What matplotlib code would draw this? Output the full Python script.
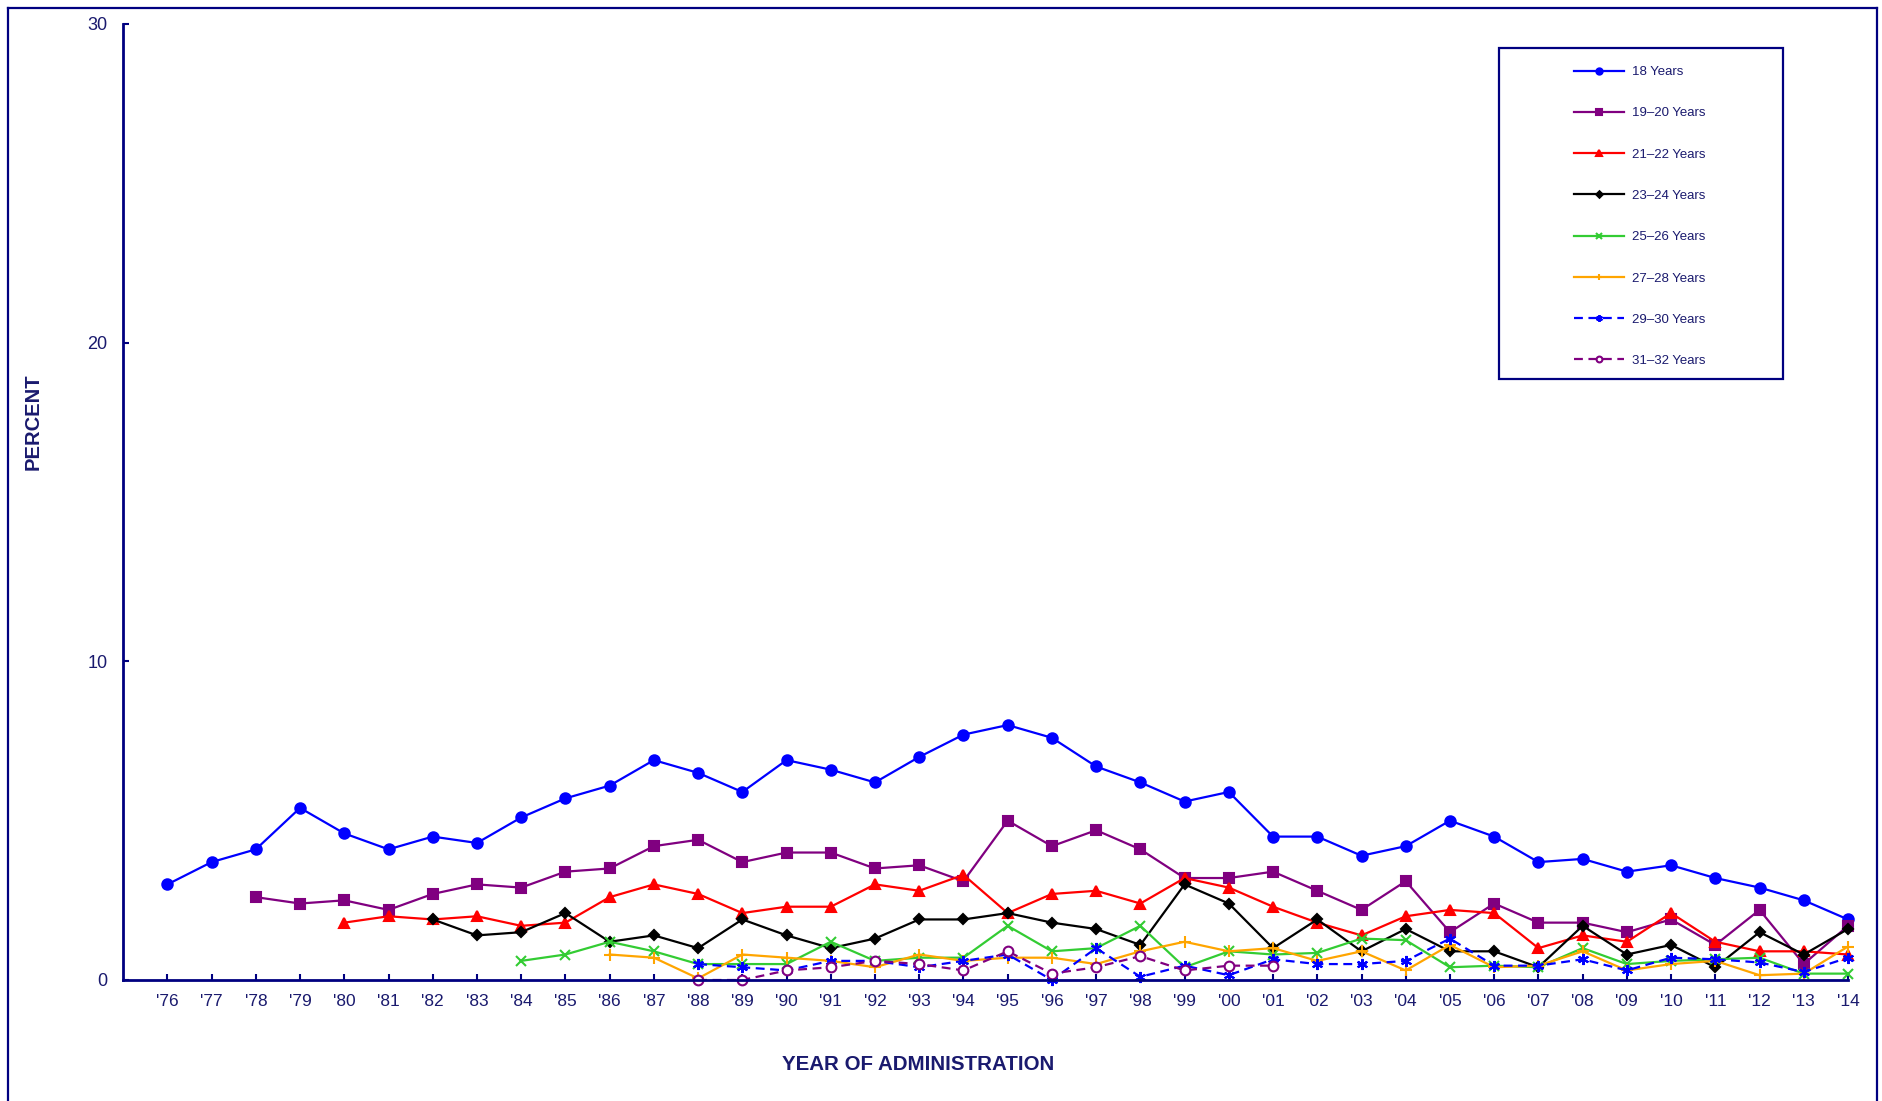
import matplotlib
matplotlib.use("Agg")
import matplotlib.pyplot as plt
from matplotlib.lines import Line2D
import numpy as np

plt.rcParams["font.family"] = ["Liberation Sans", "DejaVu Sans"]

NAVY = "#000080"
TEXT = "#1a1a6e"
nan = np.nan

year_labels = ["'76", "'77", "'78", "'79", "'80", "'81", "'82", "'83", "'84", "'85",
               "'86", "'87", "'88", "'89", "'90", "'91", "'92", "'93", "'94", "'95",
               "'96", "'97", "'98", "'99", "'00", "'01", "'02", "'03", "'04", "'05",
               "'06", "'07", "'08", "'09", "'10", "'11", "'12", "'13", "'14"]

age_18 = [3.0, 3.7, 4.1, 5.4, 4.6, 4.1, 4.5, 4.3, 5.1, 5.7,
          6.1, 6.9, 6.5, 5.9, 6.9, 6.6, 6.2, 7.0, 7.7, 8.0,
          7.6, 6.7, 6.2, 5.6, 5.9, 4.5, 4.5, 3.9, 4.2, 5.0,
          4.5, 3.7, 3.8, 3.4, 3.6, 3.2, 2.9, 2.5, 1.9]
age_19_20 = [nan, nan, 2.6, 2.4, 2.5, 2.2, 2.7, 3.0, 2.9, 3.4,
             3.5, 4.2, 4.4, 3.7, 4.0, 4.0, 3.5, 3.6, 3.1, 5.0,
             4.2, 4.7, 4.1, 3.2, 3.2, 3.4, 2.8, 2.2, 3.1, 1.5,
             2.4, 1.8, 1.8, 1.5, 1.9, 1.1, 2.2, 0.5, 1.7]
age_21_22 = [nan, nan, nan, nan, 1.8, 2.0, 1.9, 2.0, 1.7, 1.8,
             2.6, 3.0, 2.7, 2.1, 2.3, 2.3, 3.0, 2.8, 3.3, 2.1,
             2.7, 2.8, 2.4, 3.2, 2.9, 2.3, 1.8, 1.4, 2.0, 2.2,
             2.1, 1.0, 1.4, 1.2, 2.1, 1.2, 0.9, 0.9, 0.8]
age_23_24 = [nan, nan, nan, nan, nan, nan, 1.9, 1.4, 1.5, 2.1,
             1.2, 1.4, 1.0, 1.9, 1.4, 1.0, 1.3, 1.9, 1.9, 2.1,
             1.8, 1.6, 1.1, 3.0, 2.4, 1.0, 1.9, 0.9, 1.6, 0.9,
             0.9, 0.4, 1.7, 0.8, 1.1, 0.4, 1.5, 0.8, 1.6]
age_25_26 = [nan, nan, nan, nan, nan, nan, nan, nan, 0.6, 0.8,
             1.2, 0.9, 0.5, 0.5, 0.5, 1.2, 0.6, 0.7, 0.7, 1.7,
             0.9, 1.0, 1.7, 0.4, 0.9, 0.8, 0.85, 1.3, 1.25, 0.4,
             0.45, 0.4, 1.0, 0.5, 0.6, 0.65, 0.7, 0.2, 0.2]
age_27_28 = [nan, nan, nan, nan, nan, nan, nan, nan, nan, nan,
             0.8, 0.7, 0.05, 0.8, 0.7, 0.6, 0.4, 0.8, 0.6, 0.7,
             0.7, 0.5, 0.9, 1.2, 0.9, 1.0, 0.6, 0.9, 0.3, 1.1,
             0.4, 0.45, 0.9, 0.3, 0.5, 0.6, 0.15, 0.2, 1.05]
age_29_30 = [nan, nan, nan, nan, nan, nan, nan, nan, nan, nan,
             nan, nan, 0.5, 0.4, 0.3, 0.6, 0.6, 0.4, 0.6, 0.8,
             0.0, 1.0, 0.1, 0.45, 0.15, 0.65, 0.5, 0.5, 0.6, 1.3,
             0.45, 0.45, 0.65, 0.3, 0.7, 0.65, 0.55, 0.25, 0.7]
age_31_32 = [nan, nan, nan, nan, nan, nan, nan, nan, nan, nan,
             nan, nan, 0.0, 0.0, 0.3, 0.4, 0.6, 0.5, 0.3, 0.9,
             0.2, 0.4, 0.75, 0.3, 0.45, 0.45, nan, nan, nan, nan,
             nan, nan, nan, nan, nan, nan, nan, nan, nan]

series_labels = ["18 Years", "19\u201320 Years", "21\u201322 Years", "23\u201324 Years",
                 "25\u201326 Years", "27\u201328 Years", "29\u201330 Years", "31\u201332 Years"]
series_values = [age_18, age_19_20, age_21_22, age_23_24,
                 age_25_26, age_27_28, age_29_30, age_31_32]

# style per series: color, marker, size, linestyle, face
styles = [
    ("#0000ff", "o", 7.5, "-", None),
    ("#800080", "s", 7.0, "-", None),
    ("#ff0000", "^", 7.5, "-", None),
    ("#000000", "D", 5.5, "-", None),
    ("#33cc33", "x", 7.0, "-", None),
    ("#ffa500", "+", 8.0, "-", None),
    ("#0000ff", (6, 2, 0), 8.0, "--", None),
    ("#800080", "o", 7.0, "--", "white"),
]

fig = plt.figure(figsize=(18.83, 11.01), dpi=100)
W, H = 1883, 1101
ax = fig.add_axes([122.7 / W, (H - 980) / H, (1848 - 122.7) / W, (980 - 24) / H])

x = np.arange(len(year_labels))
handles = []
for vals, lab, (col, mk, ms, ls, face) in zip(series_values, series_labels, styles):
    kw = dict(color=col, marker=mk, markersize=ms, linewidth=1.6, linestyle=ls,
              markeredgewidth=1.5, clip_on=False, label=lab)
    if ls == "--":
        kw["dashes"] = (4, 2.5)
    if face is not None:
        kw["markerfacecolor"] = face
    line, = ax.plot(x, vals, **kw)
    handles.append(line)

ax.set_xlim(-1.01, len(year_labels) - 1)
ax.set_ylim(0, 30)
ax.set_yticks([0, 10, 20, 30])
ax.set_xticks(x)
ax.set_xticklabels(year_labels)

for side in ["top", "right"]:
    ax.spines[side].set_visible(False)
for side in ["left", "bottom"]:
    ax.spines[side].set_color(NAVY)
    ax.spines[side].set_linewidth(2.0)

ax.tick_params(axis="both", direction="in", color=NAVY, width=1.5, length=4, labelcolor=TEXT)
ax.tick_params(axis="y", labelsize=13, pad=11)
ax.tick_params(axis="x", labelsize=12.5, pad=10)

fig.text(33 / W, 1 - 422 / H, "PERCENT", rotation=90, ha="center", va="center",
         fontsize=14.5, fontweight="bold", color=TEXT)
fig.text(918 / W, 1 - 1065 / H, "YEAR OF ADMINISTRATION", ha="center", va="center",
         fontsize=14.8, fontweight="bold", color=TEXT)

# legend box drawn separately
fig.patches.append(plt.Rectangle((1499 / W, 1 - 379 / H), 284 / W, 331 / H,
                                 transform=fig.transFigure, fill=False,
                                 edgecolor=NAVY, linewidth=1.6))
leg = ax.legend(handles=handles, loc="upper left",
                bbox_to_anchor=(1574 / W, 1 - 66 / H), bbox_transform=fig.transFigure,
                frameon=False, fontsize=9.5, labelcolor=TEXT, borderpad=0,
                handlelength=3.8, handletextpad=0.6, labelspacing=2.2,
                markerscale=0.6, borderaxespad=0)

# outer border (left, top, right)
for xs, ys in [((8 / W, 8 / W), (0, 1 - 8 / H)),
               ((8 / W, 1877 / W), (1 - 8 / H, 1 - 8 / H)),
               ((1877 / W, 1877 / W), (1 - 8 / H, 0))]:
    fig.add_artist(Line2D(xs, ys, transform=fig.transFigure, color=NAVY, linewidth=1.6))

fig.savefig("out.png", dpi=100)
plt.close(fig)
